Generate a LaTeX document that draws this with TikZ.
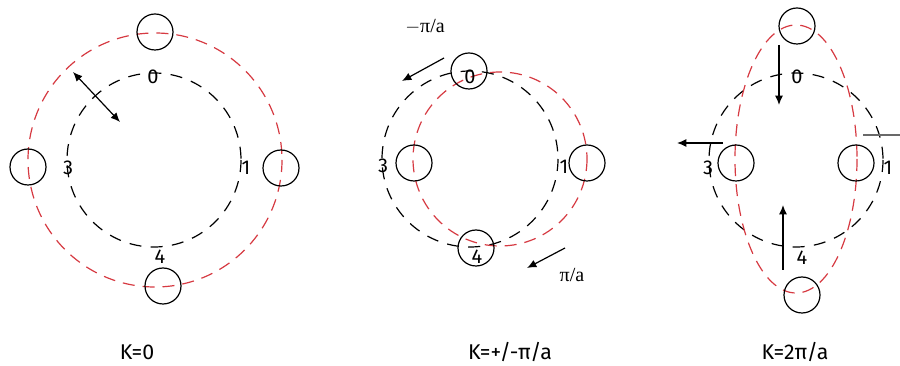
\documentclass[tikz,border=0pt]{standalone}
\usepackage{fontspec}
\setmainfont{Fira Sans}
\newfontfamily\serifpi{Liberation Serif}
\usetikzlibrary{arrows.meta}
\definecolor{ringred}{RGB}{214,58,66}
\definecolor{linegray}{RGB}{105,105,105}

\begin{document}
\begin{tikzpicture}[x=0.75pt,y=-0.75pt,
  atom/.style={circle,draw,line width=0.9pt,minimum size=27pt,inner sep=0pt},
  blackring/.style={line width=0.9pt,dash pattern=on 9pt off 7pt},
  redring/.style={ringred,line width=0.9pt,dash pattern=on 9pt off 6pt},
  site/.style={font=\fontsize{15}{15}\selectfont,inner sep=0pt},
  wave/.style={font=\serifpi\fontsize{15}{15}\selectfont,inner sep=0pt},
  caption/.style={font=\fontsize{16}{16}\selectfont,inner sep=0pt},
  move/.style={line width=0.9pt,-{Latex[length=7pt,width=6pt]}}]

\useasboundingbox (0,0) rectangle (900,366);

% K=0
\draw[blackring] (154,160) circle[radius=87];
\draw[redring] (155,160) circle[radius=127];
\node[atom] (a0) at (155,32) {};
\node[atom] (a3) at (28,167) {};
\node[atom] (a1) at (281,168) {};
\node[atom] (a4) at (163,286) {};
\node[site] (s0) at (153,77) {0};
\node[site] (s3) at (68,168) {3};
\node[site] (s1) at (246,168) {1};
\node[site] (s4) at (160,257) {4};
\coordinate (d1) at (73,72);
\coordinate (d2) at (120,122);
\draw[move,{Latex[length=7pt,width=6pt]}-{Latex[length=7pt,width=6pt]}] (d1) -- (d2);
\node[caption] (k1) at (137,352) {K=0};

% K=+/-pi/a
\draw[blackring] (470,159) circle[radius=88];
\draw[redring] (500,159) circle[radius=87];
\node[atom] (b0) at (469,71) {};
\node[atom] (b3) at (414,163) {};
\node[atom] (b1) at (587,163) {};
\node[atom] (b4) at (476,248) {};
\node[site] (t0) at (470,77) {0};
\node[site] (t3) at (383,166) {3};
\node[site] (t1) at (564,167) {1};
\node[site] (t4) at (477,257) {4};
\coordinate (m1) at (444,58);
\coordinate (m2) at (402,81);
\draw[move] (m1) -- (m2);
\node[wave] (w1) at (425,27) {$-$π/a};
\coordinate (p1) at (565,248);
\coordinate (p2) at (527,268);
\draw[move] (p1) -- (p2);
\node[wave] (w2) at (572,275) {π/a};
\node[caption] (k2) at (510,352) {K=+/-π/a};

% K=2pi/a
\draw[blackring] (796,160) circle[radius=87];
\draw[redring] (796,159) ellipse[x radius=61,y radius=134];
\node[atom] (c0) at (797,26) {};
\node[atom] (c3) at (736,163) {};
\node[atom] (c1) at (856,163) {};
\node[atom] (c4) at (802,295) {};
\node[site] (u0) at (797,77) {0};
\node[site] (u3) at (708,168) {3};
\node[site] (u1) at (888,168) {1};
\node[site] (u4) at (802,258) {4};
\coordinate (q1) at (779,45);
\coordinate (q2) at (779,105);
\draw[move] (q1) -- (q2);
\coordinate (r1) at (723,143);
\coordinate (r2) at (677,143);
\draw[move] (r1) -- (r2);
\coordinate (v1) at (783,270);
\coordinate (v2) at (783,205);
\draw[move] (v1) -- (v2);
\coordinate (g1) at (863,135);
\coordinate (g2) at (900,135);
\draw[linegray,line width=1.1pt] (g1) -- (g2);
\node[caption] (k3) at (795,352) {K=2π/a};

\end{tikzpicture}
\end{document}
